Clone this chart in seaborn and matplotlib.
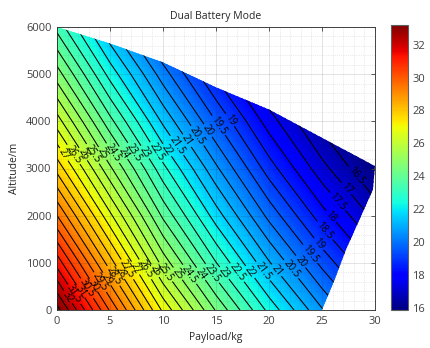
import numpy as np
import matplotlib
matplotlib.use("Agg")
import matplotlib.pyplot as plt
import matplotlib.tri as mtri
from matplotlib.patches import Polygon
from matplotlib.ticker import MultipleLocator
from matplotlib.colors import Normalize
from matplotlib.cm import ScalarMappable
import seaborn as sns

# Grid of the endurance map
payload_kg = [0, 5, 10, 15, 20, 25, 30]
altitude_m = [0, 1000, 2000, 3000, 4000, 5000, 6000]
# flight endurance in minutes; rows follow altitude_m, columns follow payload_kg
endurance_min = [
    [33.20, 29.94, 26.90, 24.45, 22.35, 20.55, 19.00],
    [31.30, 28.23, 25.30, 23.02, 21.05, 19.35, 17.90],
    [29.51, 26.62, 23.90, 21.75, 19.85, 18.22, 16.85],
    [27.83, 25.10, 22.65, 20.60, 18.75, 17.18, 15.90],
    [26.24, 23.66, 21.40, 19.50, 17.75, 16.30, 15.05],
    [24.74, 22.31, 20.24, 18.40, 16.80, 15.45, 14.30],
    [23.33, 21.04, 19.09, 17.35, 15.85, 14.60, 13.50],
]

# Operating envelope (payload, altitude) limits
env_payload = [0, 25, 26.2, 27.3, 28.5, 29.8, 30, 25, 20, 15, 10, 5, 0]
env_altitude = [0, 0, 650, 1300, 1900, 2550, 3050, 3650, 4250, 4720, 5250, 5650, 6000]

contour_levels = np.arange(16.5, 33.01, 0.5)
cbar_ticks = [16, 18, 20, 22, 24, 26, 28, 30, 32]
vmin, vmax = 15.85, 33.2

sns.set_theme(style="white")
plt.rcParams["font.family"] = ["Open Sans", "DejaVu Sans"]
text_col = "#404040"
axis_col = "#262626"

P, H = np.meshgrid(payload_kg, altitude_m)
Z = np.array(endurance_min)
cmap = matplotlib.colormaps["jet"]
norm = Normalize(vmin, vmax)

fig = plt.figure(figsize=(4.31, 3.48), dpi=100)
ax = fig.add_axes([57 / 431, 38 / 348, 318 / 431, 283 / 348])

clip = Polygon(np.column_stack([env_payload, env_altitude]), closed=True,
               transform=ax.transData, facecolor="none", edgecolor="none")
ax.add_patch(clip)

fill = ax.contourf(P, H, Z, levels=np.linspace(vmin, vmax, 200), cmap=cmap,
                   norm=norm, extend="both", zorder=1)
fill.set_clip_path(clip)

lines = ax.contour(P, H, Z, levels=contour_levels, colors="black",
                   linewidths=0.75, zorder=2)
lines.set_clip_path(clip)

# label positions: where each contour crosses two guide paths
tri = mtri.Triangulation(P.ravel(), H.ravel())
interp = mtri.LinearTriInterpolator(tri, Z.ravel())


def label_spots(guide):
    gx, gy = [], []
    for (x0, y0), (x1, y1) in zip(guide[:-1], guide[1:]):
        t = np.linspace(0, 1, 300)
        gx.append(x0 + (x1 - x0) * t)
        gy.append(y0 + (y1 - y0) * t)
    gx = np.concatenate(gx)
    gy = np.concatenate(gy)
    v = np.asarray(interp(gx, gy))
    spots = []
    for lv in contour_levels:
        idx = np.where(np.diff(np.sign(v - lv)) != 0)[0]
        if len(idx):
            spots.append((gx[idx[0]], gy[idx[0]]))
    return spots


lower_guide = [(0.8, 250), (7, 900), (12, 750), (22, 850), (24.5, 1300),
               (26.5, 2300), (28.5, 2950)]
upper_guide = [(0.5, 3300), (10, 3350), (16.5, 4050)]
spots = label_spots(lower_guide) + label_spots(upper_guide)
labels = ax.clabel(lines, contour_levels, manual=spots, inline=True,
                   inline_spacing=2, fontsize=7, fmt=lambda v: f"{v:g}")
for t in labels:
    t.set_color("black")

ax.set_xlim(0, 30)
ax.set_ylim(0, 6000)
ax.set_xticks([0, 5, 10, 15, 20, 25, 30])
ax.set_yticks([0, 1000, 2000, 3000, 4000, 5000, 6000])
ax.xaxis.set_minor_locator(MultipleLocator(1))
ax.yaxis.set_minor_locator(MultipleLocator(200))
ax.set_axisbelow(False)
ax.grid(True, which="major", color=axis_col, alpha=0.15, linewidth=0.6)
ax.grid(True, which="minor", color=axis_col, alpha=0.18, linewidth=0.5,
        linestyle=":")
ax.tick_params(which="major", direction="in", length=3, width=0.6,
               top=True, right=True, labelsize=8, colors=text_col,
               pad=4)
ax.tick_params(which="minor", length=0)
for s in ax.spines.values():
    s.set_color(axis_col)
    s.set_linewidth(0.6)

ax.set_xlabel("Payload/kg", fontsize=7.5, color=axis_col, labelpad=4)
ax.set_ylabel("Altitude/m", fontsize=7.5, color=axis_col, labelpad=4)
ax.set_title("Dual Battery Mode", fontsize=7.5, color=axis_col, pad=6)

cax = fig.add_axes([391 / 431, 38 / 348, 17 / 431, 285 / 348])
cb = fig.colorbar(ScalarMappable(norm=norm, cmap=cmap), cax=cax,
                  ticks=cbar_ticks)
cb.outline.set_edgecolor("#606060")
cb.outline.set_linewidth(0.8)
cax.tick_params(direction="in", length=3, width=0.6, labelsize=8,
                colors=text_col, pad=3)

fig.savefig("out.png", dpi=100)
